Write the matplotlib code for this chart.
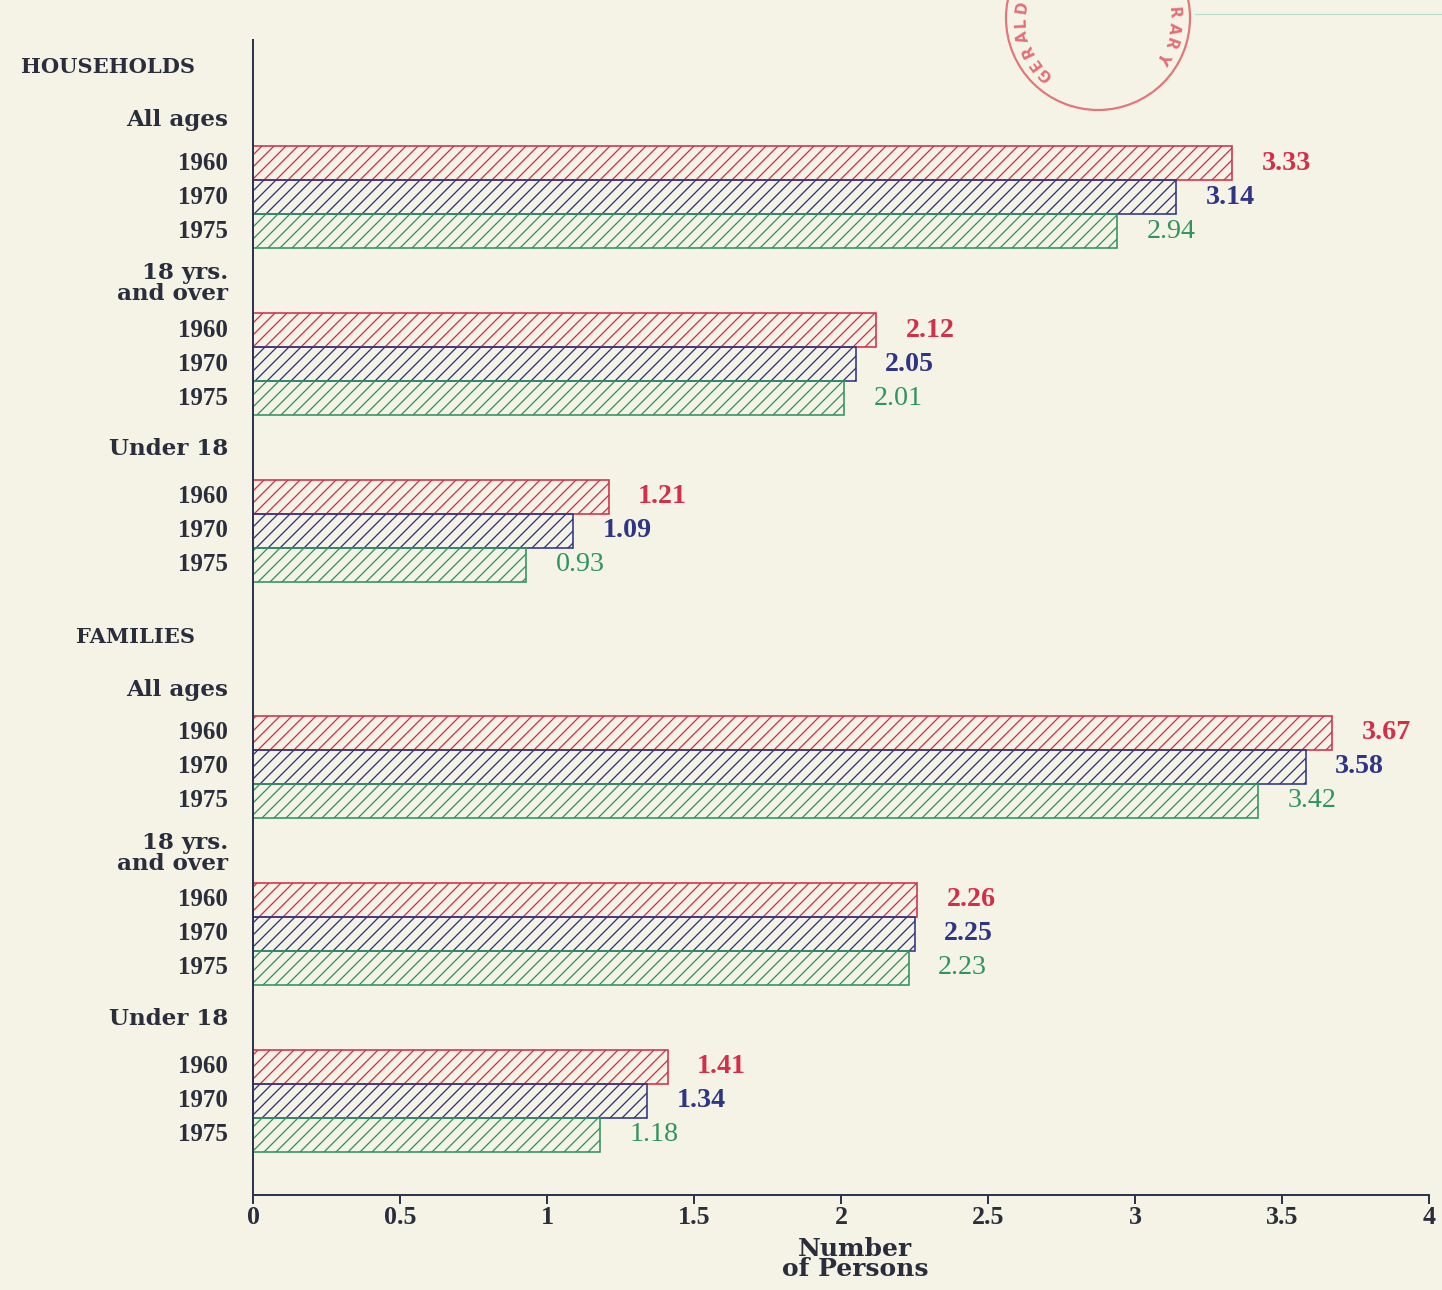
import numpy as np
import matplotlib
matplotlib.use("Agg")
import matplotlib.pyplot as plt
from matplotlib.patches import Circle

# ---- data -------------------------------------------------------------
sections = ["HOUSEHOLDS", "FAMILIES"]
age_groups = ["All ages", "18 yrs.\nand over", "Under 18"]
years = ["1960", "1970", "1975"]

households_1960 = [3.33, 2.12, 1.21]
households_1970 = [3.14, 2.05, 1.09]
households_1975 = [2.94, 2.01, 0.93]

families_1960 = [3.67, 2.26, 1.41]
families_1970 = [3.58, 2.25, 1.34]
families_1975 = [3.42, 2.23, 1.18]

x_ticks = [0, 0.5, 1, 1.5, 2, 2.5, 3, 3.5, 4]
x_tick_labels = ["0", "0.5", "1", "1.5", "2", "2.5", "3", "3.5", "4"]

# ---- styling ----------------------------------------------------------
PAPER = "#f5f3e5"
INK = "#2a2e3c"
AXIS = "#2c3550"
year_colors = ["#d42f4a", "#2e3585", "#2f9460"]
value_weights = ["bold", "bold", "normal"]

WORD_FONT = "DejaVu Serif"
DIGIT_FONT = "Liberation Serif"

plt.rcParams["hatch.linewidth"] = 1.3

DPI = 72
fig = plt.figure(figsize=(1442 / DPI, 1290 / DPI), dpi=DPI, facecolor=PAPER)

# layout in bar-height units
BAR_H = 1.0
FIRST_TOP = 3.12
BLOCK_PITCH = 4.91
SECTION_EXTRA = 2.03
Y_BOTTOM = 33.97
label_gap = [0.76, 0.87, 0.92]

ax = fig.add_axes([253 / 1442, 95 / 1290, 1176 / 1442, 1155 / 1290])
ax.set_facecolor("none")
ax.set_xlim(0, 4)
ax.set_ylim(Y_BOTTOM, 0)

series = [
    [households_1960, households_1970, households_1975],
    [families_1960, families_1970, families_1975],
]

ytrans = ax.get_yaxis_transform()
for s, sec_name in enumerate(sections):
    sec_top = FIRST_TOP + s * (3 * BLOCK_PITCH + SECTION_EXTRA)
    ax.text(-0.0493, sec_top - 2.33, sec_name, transform=ytrans,
            ha="right", va="center", fontsize=21, fontweight="bold",
            family=WORD_FONT, color=INK)
    for b, grp in enumerate(age_groups):
        block_top = sec_top + b * BLOCK_PITCH
        ax.text(-0.0213, block_top - label_gap[b], grp, transform=ytrans,
                ha="right", va="center", fontsize=23, fontweight="bold",
                family=WORD_FONT, color=INK, linespacing=0.92)
        for k, yr in enumerate(years):
            val = series[s][k][b]
            yc = block_top + (k + 0.5) * BAR_H
            ax.barh(yc, val, height=BAR_H, left=0, facecolor="none",
                    edgecolor=year_colors[k], hatch="//", linewidth=1.6)
            ax.text(-0.0213, yc, yr, transform=ytrans, ha="right",
                    va="center", fontsize=25, fontweight="bold",
                    family=DIGIT_FONT, color=INK)
            ax.text(val + 0.1, yc, f"{val:.2f}", ha="left", va="center",
                    fontsize=28, fontweight=value_weights[k],
                    family=DIGIT_FONT, color=year_colors[k])

for side in ["top", "right"]:
    ax.spines[side].set_visible(False)
for side in ["left", "bottom"]:
    ax.spines[side].set_color(AXIS)
    ax.spines[side].set_linewidth(2)
ax.set_yticks([])
ax.set_xticks(x_ticks)
ax.set_xticklabels(x_tick_labels, family=DIGIT_FONT, fontweight="bold",
                   fontsize=26, color=INK)
ax.tick_params(axis="x", direction="out", length=9, width=2, color=AXIS, pad=2)
ax.set_xlabel("Number\nof Persons", family=WORD_FONT, fontweight="bold",
              fontsize=25, color=INK, linespacing=0.8)
ax.xaxis.set_label_coords(0.512, -0.036, transform=ax.transAxes)
ax.xaxis.label.set_va("top")

# ---- library stamp and paper marks (pixel overlay) ---------------------
ov = fig.add_axes([0, 0, 1, 1], zorder=-1)
ov.set_xlim(0, 1442)
ov.set_ylim(1290, 0)
ov.axis("off")
ov.patch.set_alpha(0)
stamp = "#e0606a"
cx, cy, r = 1098, 18, 92
ov.add_patch(Circle((cx, cy), r, fill=False, edgecolor=stamp, linewidth=2.2, alpha=0.85))
left_word = "GERALD"
for i, ch in enumerate(left_word):
    th = np.deg2rad(227 - 11 * i)
    ov.text(cx + 77 * np.cos(th), cy - 77 * np.sin(th), ch,
            rotation=np.rad2deg(th) - 90, ha="center", va="center",
            fontsize=15, fontweight="bold", family="DejaVu Sans",
            color=stamp, alpha=0.9)
right_word = "RARY"
for i, ch in enumerate(right_word):
    th = np.deg2rad(4 - 11.5 * i)
    ov.text(cx + 76 * np.cos(th), cy - 76 * np.sin(th), ch,
            rotation=np.rad2deg(th) - 90, ha="center", va="center",
            fontsize=15, fontweight="bold", family="DejaVu Sans",
            color=stamp, alpha=0.9)
ov.plot([1195, 1442], [14, 14], color="#9fd6c8", linewidth=1.2, alpha=0.7)

fig.savefig("out.png", dpi=DPI, facecolor=PAPER)
